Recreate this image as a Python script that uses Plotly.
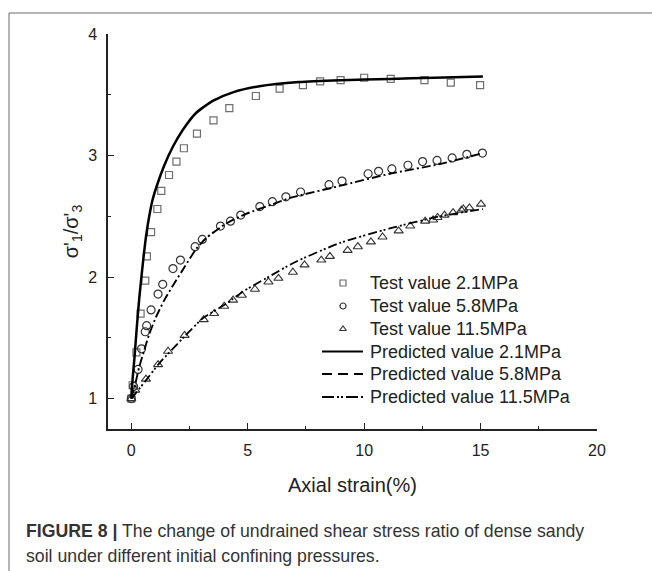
import plotly.graph_objects as go

# ---------------- data ----------------
x_sq = [0, 0.06, 0.22, 0.40, 0.60, 0.67, 0.85, 1.12, 1.29, 1.62, 1.94, 2.26, 2.82, 3.53, 4.21,
        5.35, 6.37, 7.37, 8.11, 8.99, 10.0, 11.14, 12.59, 13.72, 14.98]
y_sq = [1.0, 1.11, 1.38, 1.70, 1.97, 2.17, 2.37, 2.56, 2.71, 2.84, 2.95, 3.06, 3.18, 3.29, 3.39,
        3.49, 3.55, 3.58, 3.61, 3.62, 3.64, 3.63, 3.62, 3.60, 3.58]

x_ci = [0, 0.1, 0.29, 0.44, 0.60, 0.66, 0.85, 1.15, 1.35, 1.79, 2.11, 2.74, 3.05, 3.83, 4.26,
        4.70, 5.52, 6.06, 6.64, 7.27, 8.49, 9.05, 10.17, 10.62, 11.19, 11.88, 12.51, 13.13,
        13.78, 14.41, 15.08]
y_ci = [1.0, 1.10, 1.24, 1.41, 1.55, 1.60, 1.73, 1.86, 1.94, 2.07, 2.14, 2.25, 2.31, 2.42, 2.46,
        2.51, 2.58, 2.62, 2.66, 2.70, 2.76, 2.79, 2.85, 2.87, 2.89, 2.92, 2.95, 2.96,
        2.98, 3.01, 3.02]

x_tr = [0, 0.17, 0.63, 1.15, 1.58, 2.29, 3.11, 3.56, 3.99, 4.37, 4.75, 5.31, 5.89, 6.32, 6.94,
        7.44, 8.16, 8.53, 9.29, 9.73, 10.29, 10.79, 11.48, 11.98, 12.62, 12.96, 13.15, 13.45,
        13.82, 14.18, 14.26, 14.52, 15.02]
y_tr = [1.0, 1.07, 1.16, 1.28, 1.39, 1.52, 1.65, 1.70, 1.76, 1.81, 1.85, 1.90, 1.96, 1.99, 2.04,
        2.10, 2.14, 2.17, 2.22, 2.25, 2.29, 2.33, 2.38, 2.42, 2.46, 2.47, 2.49, 2.51,
        2.53, 2.55, 2.56, 2.57, 2.60]

x_p1 = [0, 0.06, 0.13, 0.23, 0.34, 0.49, 0.63, 0.77, 0.92, 1.13, 1.42, 1.78, 2.21, 2.78, 3.50,
        4.36, 5.5, 7.2, 9.0, 11.1, 13.0, 15.1]
y_p1 = [1.0, 1.17, 1.32, 1.57, 1.82, 2.10, 2.33, 2.50, 2.64, 2.77, 2.92, 3.07, 3.21, 3.35, 3.45,
        3.52, 3.57, 3.605, 3.62, 3.63, 3.64, 3.65]

x_p2 = [0, 0.17, 0.34, 0.56, 0.77, 1.06, 1.42, 1.85, 2.28, 2.78, 3.21, 4.07, 4.93, 6.08, 6.80,
        8.95, 11.1, 13.25, 15.1]
y_p2 = [1.0, 1.12, 1.26, 1.40, 1.53, 1.67, 1.81, 1.95, 2.08, 2.23, 2.32, 2.44, 2.52, 2.60, 2.65,
        2.75, 2.85, 2.93, 3.02]

x_p3 = [0, 0.63, 1.2, 2.28, 3.07, 4.07, 4.79, 5.79, 7.0, 8.95, 11.1, 13.25, 15.1]
y_p3 = [1.0, 1.15, 1.29, 1.51, 1.66, 1.78, 1.88, 1.99, 2.12, 2.28, 2.40, 2.50, 2.56]

names_test = ["Test value 2.1MPa", "Test value 5.8MPa", "Test value 11.5MPa"]
names_pred = ["Predicted value 2.1MPa", "Predicted value 5.8MPa", "Predicted value 11.5MPa"]

x_tickvals = [0, 5, 10, 15, 20]
y_tickvals = [1, 2, 3, 4]

caption_bold = "FIGURE 8 |"
caption_l1 = " The change of undrained shear stress ratio of dense sandy"
caption_l2 = "soil under different initial confining pressures."

FONT = "Liberation Sans, Arial, sans-serif"

# styles
sq_marker = dict(symbol="square-open", size=7, color="#6e6e6e", line=dict(width=1.2, color="#6e6e6e"))
ci_marker = dict(symbol="circle-open", size=8, color="#333333", line=dict(width=1.2, color="#333333"))
tr_marker = dict(symbol="triangle-up-open", size=8, color="#333333", line=dict(width=1.1, color="#333333"))
p1_line = dict(color="#000000", width=2.5, shape="spline", smoothing=0.6)
p2_line = dict(color="#000000", width=1.9, dash="9px,3px,2px,3px", shape="spline", smoothing=0.6)
p3_line = dict(color="#000000", width=1.8, dash="9px,3px,2px,2px,2px,3px", shape="spline", smoothing=0.6)

fig = go.Figure()

fig.add_trace(go.Scatter(x=x_sq, y=y_sq, mode="markers", name=names_test[0], marker=sq_marker))
fig.add_trace(go.Scatter(x=x_ci, y=y_ci, mode="markers", name=names_test[1], marker=ci_marker))
fig.add_trace(go.Scatter(x=x_tr, y=y_tr, mode="markers", name=names_test[2], marker=tr_marker))
fig.add_trace(go.Scatter(x=x_p1, y=y_p1, mode="lines", name=names_pred[0], line=p1_line))
fig.add_trace(go.Scatter(x=x_p2, y=y_p2, mode="lines", name=names_pred[1], line=p2_line))
fig.add_trace(go.Scatter(x=x_p3, y=y_p3, mode="lines", name=names_pred[2], line=p3_line))

# plot area: x 108..597 px, y 34..429 px
L, R, T, B = 108, 597, 34, 429
W, H = 652, 571
pw, ph = R - L, B - T


def px2x(p):
    return (p - L) / pw


def px2y(p):
    return (B - p) / ph


# ---- legend drawn on a hidden pixel-unit overlay axis ----
leg_rows = [283, 306, 329, 351.5, 374, 397]
leg_sym_x = 343
leg_line_x = [322, 363]
leg_text_x = 368

for i, mk in enumerate([sq_marker, ci_marker, tr_marker]):
    m = dict(mk)
    m["size"] = 6
    fig.add_trace(go.Scatter(x=[leg_sym_x], y=[leg_rows[i]], xaxis="x2", yaxis="y2",
                             mode="markers", marker=m, showlegend=False, hoverinfo="skip",
                             cliponaxis=False))
leg_dashes = ["solid", "10px,6px", "12px,3px,2px,2px,2px,3px"]
leg_widths = [2.2, 2.0, 2.0]
for j in range(3):
    fig.add_trace(go.Scatter(x=leg_line_x, y=[leg_rows[3 + j]] * 2, xaxis="x2", yaxis="y2",
                             mode="lines", line=dict(color="#000000", width=leg_widths[j],
                                                     dash=leg_dashes[j]),
                             showlegend=False, hoverinfo="skip", cliponaxis=False))
for i, nm in enumerate(names_test + names_pred):
    fig.add_annotation(xref="x2", yref="y2", x=leg_text_x, y=leg_rows[i], xanchor="left",
                       yanchor="middle", showarrow=False, text=nm,
                       font=dict(size=18, family=FONT, color="#222222"))

fig.update_layout(
    width=W, height=H,
    margin=dict(l=L, r=W - R, t=T, b=H - B, pad=0),
    paper_bgcolor="white", plot_bgcolor="white",
    font=dict(family=FONT, color="#222222", size=16),
    showlegend=False,
    xaxis=dict(range=[-1, 20], tickvals=x_tickvals, ticks="inside", ticklen=6, tickwidth=1.3,
               tickcolor="#222222", showline=True, linecolor="#222222", linewidth=1.5,
               showgrid=False, zeroline=False, tickfont=dict(size=16),
               minor=dict(dtick=2.5, tick0=0, ticks="inside", ticklen=3, tickwidth=1.2,
                          tickcolor="#222222", showgrid=False),
               title=dict(text="Axial strain(%)", font=dict(size=20), standoff=20),
               ticklabelstandoff=6),
    yaxis=dict(range=[0.75, 4], tickvals=y_tickvals, ticks="inside", ticklen=6, tickwidth=1.3,
               tickcolor="#222222", showline=True, linecolor="#222222", linewidth=1.5,
               showgrid=False, zeroline=False, tickfont=dict(size=16),
               minor=dict(dtick=0.5, tick0=0, ticks="inside", ticklen=3, tickwidth=1.2,
                          tickcolor="#222222", showgrid=False),
               title=dict(text="σ'<sub>1</sub>/σ'<sub>3</sub>", font=dict(size=20), standoff=4),
               ticklabelstandoff=6),
    xaxis2=dict(overlaying="x", range=[L, R], visible=False, fixedrange=True),
    yaxis2=dict(overlaying="y", range=[B, T], visible=False, fixedrange=True),
)

# frame lines (top and left)
fig.add_shape(type="line", xref="paper", yref="paper", x0=px2x(9), x1=px2x(652),
              y0=px2y(13), y1=px2y(13), line=dict(color="#6a6a6a", width=1))
fig.add_shape(type="line", xref="paper", yref="paper", x0=px2x(9), x1=px2x(9),
              y0=px2y(13), y1=px2y(571), line=dict(color="#6a6a6a", width=1))

# caption
fig.add_annotation(xref="paper", yref="paper", x=px2x(24), y=px2y(531), xanchor="left",
                   yanchor="middle", showarrow=False, align="left",
                   text="<b>" + caption_bold + "</b>" + caption_l1,
                   font=dict(size=17.7, family=FONT, color="#333333"))
fig.add_annotation(xref="paper", yref="paper", x=px2x(24), y=px2y(556), xanchor="left",
                   yanchor="middle", showarrow=False, align="left",
                   text=caption_l2, font=dict(size=17.7, family=FONT, color="#333333"))

fig.write_html("out.html")
